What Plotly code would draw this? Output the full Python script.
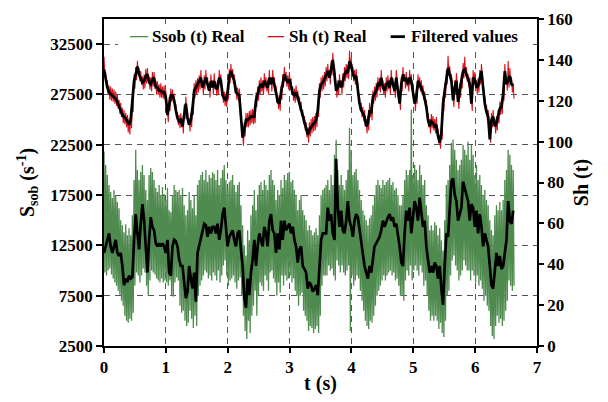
import numpy as np
import plotly.graph_objects as go

dt = 0.027

# Sh (t) filtered values (right axis)
sh_filtered = [
    135.3,129.7,126.5,124.1,123.4,122.6,121.8,121.0,119.4,117.0,115.4,113.0,112.2,111.4,109.9,108.3,110.6,118.6,129.7,132.9,
    136.8,132.9,131.3,128.9,129.7,132.1,132.9,128.9,128.1,130.5,131.3,126.5,126.5,124.9,124.9,124.1,124.1,121.8,113.0,118.6,
    122.6,122.6,120.2,115.4,111.4,
    109.9,110.6,107.5,114.6,118.6,111.4,108.3,110.6,116.2,124.9,126.5,127.3,128.9,131.3,126.5,128.9,131.3,128.1,124.9,129.7,
    126.5,129.7,125.7,126.5,131.3,129.7,122.6,121.0,120.2,124.1,132.1,134.5,132.1,129.7,124.1,123.4,122.6,112.2,101.9,105.9,
    110.6,110.6,111.4,112.2,112.2,112.2,
    120.2,123.4,126.5,128.1,126.5,129.7,128.1,126.5,131.3,128.1,131.3,128.1,124.1,119.4,118.6,124.1,129.7,132.9,130.5,128.9,
    130.5,127.3,123.4,122.6,124.1,121.8,118.6,116.2,112.2,109.1,105.9,103.5,105.9,107.5,108.3,109.1,110.6,115.4,124.9,128.1,
    128.9,130.5,
    132.9,134.5,131.3,136.0,140.0,132.9,124.9,126.5,129.7,126.5,129.7,132.9,134.5,133.7,139.2,137.6,132.9,131.3,132.1,124.9,
    118.6,115.4,113.8,112.2,107.5,109.1,115.4,113.8,121.8,123.4,124.9,128.1,127.3,131.3,126.5,124.9,128.1,128.9,126.5,131.3,
    127.3,124.9,131.3,123.4,118.6,
    128.1,132.9,129.7,130.5,128.1,131.3,129.7,124.9,118.6,121.8,129.7,128.1,126.5,124.1,121.0,117.0,110.6,107.5,109.9,109.1,
    107.5,108.3,102.7,99.5,104.3,118.6,124.9,131.3,136.0,132.9,129.7,120.2,126.5,129.7,119.4,124.9,129.7,134.5,135.3,132.9,
    129.7,128.1,
    118.6,131.3,130.5,126.5,127.3,131.3,134.5,126.5,118.6,114.6,112.2,101.1,110.6,112.2,107.5,109.1,112.2,116.2,117.0,123.4,
    134.5,128.1,129.7,132.1,128.1,127.3,
]

# Sh (t) real: local peaks and troughs
sh_real_peaks = [
    141.5,134.0,130.0,127.5,127.0,126.0,125.5,124.5,123.0,120.5,119.0,116.5,115.5,114.0,113.0,111.5,114.0,122.0,133.0,136.5,
    139.5,136.0,134.5,132.0,133.0,135.5,136.0,132.0,131.5,134.0,134.0,130.0,129.5,128.0,128.5,127.0,127.5,125.0,116.0,122.0,
    126.0,125.5,123.5,118.5,114.5,
    113.0,114.0,111.0,118.0,122.0,115.0,111.5,114.0,119.5,128.5,130.0,131.0,132.5,135.0,130.0,132.5,135.0,131.5,128.5,133.0,
    130.0,133.5,129.0,130.0,135.0,133.0,126.0,124.5,123.5,127.5,135.5,138.0,135.5,133.0,127.5,126.5,126.0,115.5,105.0,109.5,
    114.0,114.0,115.0,115.5,116.0,115.5,
    124.0,127.0,130.0,131.5,130.0,133.5,131.5,130.0,135.0,131.5,135.0,131.5,127.5,123.0,122.0,127.5,133.0,136.5,134.0,132.5,
    134.0,131.0,127.0,126.0,127.5,125.0,122.0,119.5,115.5,112.5,109.5,107.0,109.5,111.0,112.0,112.5,114.0,119.0,128.5,131.5,
    132.5,134.0,
    136.5,138.0,135.0,139.5,143.5,136.5,128.5,130.0,133.0,130.0,133.5,136.5,138.0,137.5,144.5,141.0,136.5,135.0,135.5,128.5,
    122.0,119.0,117.0,115.5,111.0,112.5,119.0,117.0,125.0,127.0,128.5,131.5,131.0,135.0,130.0,128.5,131.5,132.5,130.0,135.0,
    131.0,128.5,135.0,127.0,122.0,
    131.5,136.5,133.0,134.0,131.5,135.0,133.0,128.5,122.0,125.5,133.0,131.5,130.0,127.5,124.5,120.5,114.0,111.0,113.5,112.5,
    111.0,112.0,106.0,103.0,107.5,122.0,128.5,135.0,142.0,137.0,133.0,123.5,130.0,133.5,123.0,128.5,133.0,138.5,141.5,136.5,
    133.0,131.5,
    122.0,135.0,134.0,130.0,131.0,135.0,138.0,130.0,122.0,118.0,115.5,104.5,114.0,115.5,111.0,112.5,115.5,119.5,120.5,127.0,
    138.0,132.0,139.5,136.0,131.5,128.5,
]
sh_real_troughs = [
    133.0,126.5,123.0,120.5,120.0,119.5,118.5,117.5,116.0,113.5,112.0,109.0,108.5,107.0,104.5,103.5,106.5,114.5,126.0,130.0,
    133.0,129.5,128.0,125.5,126.0,128.5,129.5,125.5,124.5,127.0,128.0,123.0,123.0,121.5,121.5,121.0,120.5,118.5,109.5,115.0,
    119.5,119.0,116.5,112.0,108.0,
    106.5,107.0,104.0,111.0,115.5,108.0,105.0,107.0,113.0,121.5,123.0,124.0,125.5,128.0,123.0,125.5,128.0,125.0,121.5,126.5,
    123.0,126.5,122.5,123.0,128.0,126.5,119.0,117.5,117.0,120.5,128.5,131.0,128.5,126.5,120.5,120.0,119.0,108.5,98.0,102.5,
    107.0,107.0,108.0,109.0,108.5,109.0,
    117.0,120.0,123.0,124.5,123.0,126.0,124.5,123.0,128.0,124.5,128.0,124.5,120.5,116.0,115.0,120.5,126.5,129.5,127.0,125.5,
    127.0,124.0,120.0,119.0,120.5,118.5,115.0,112.5,108.5,105.5,102.0,99.5,102.5,104.0,105.0,105.5,107.0,112.0,121.5,124.5,
    125.5,127.0,
    129.5,131.0,128.0,132.5,136.5,129.5,121.5,123.0,126.5,123.0,126.5,129.5,131.0,130.5,135.5,134.0,129.5,128.0,128.5,121.5,
    115.0,112.0,110.0,108.5,104.0,105.5,112.0,110.5,118.5,120.0,121.5,125.0,124.0,128.0,123.0,121.5,124.5,125.5,123.0,128.0,
    124.0,121.5,128.0,120.0,115.5,
    124.5,129.5,126.0,127.0,124.5,128.0,126.0,121.5,115.0,118.5,126.0,124.5,123.0,120.5,117.5,113.5,107.0,104.0,106.5,105.5,
    104.0,104.5,99.0,96.5,101.0,115.0,121.5,128.0,132.5,129.5,126.5,117.0,123.0,126.0,116.0,121.5,126.0,131.0,132.0,129.5,
    126.5,124.5,
    115.0,128.0,127.0,123.0,124.0,128.0,131.0,123.0,115.0,111.0,109.0,99.5,107.0,108.5,104.0,105.5,109.0,113.0,113.5,120.0,
    131.0,125.0,126.5,128.5,124.0,121.0,
]

# Ssob (t) filtered values (left axis, s^-1)
ssob_filtered = [
    11750,12400,13200,13700,12400,11750,12400,13050,11750,11450,11750,10450,8550,9200,8850,9500,9200,9350,13050,15600,
    13700,12100,14650,16600,15000,12100,9800,13050,15300,14350,14000,12700,12400,12700,12400,12700,12400,11750,13050,9800,
    9500,12400,13050,12900,12400,
    11100,10450,10450,8550,7250,7900,10450,9200,8200,9800,6900,11750,12400,13050,14000,14650,14500,13350,14350,13700,
    14350,14350,13700,14650,13050,14000,15600,16250,14350,12400,13350,13700,14000,13050,12400,13700,14000,12100,10450,7250,
    6300,9200,7550,9800,11100,13050,
    10450,12400,13700,13050,12400,14350,13700,12400,14950,15600,14000,13700,11750,13700,12100,14950,13050,14950,14000,14350,
    14650,13700,14350,13050,12400,10800,12100,12400,10450,10150,9800,8200,8850,8550,7900,8200,8550,7550,9800,13050,
    13700,13700,
    13700,16250,14950,15600,13700,13050,21100,16250,14350,15950,14000,13700,14950,16900,14950,14350,13350,14950,15600,15300,
    14000,12700,11750,10450,9800,9200,10450,9800,11100,12400,12700,13050,13350,14000,14950,14350,14950,15300,15600,14950,
    15300,14350,14650,13700,12400,
    10800,10450,13700,15950,14950,16250,13700,15600,16900,16250,14950,17250,15950,14350,14950,12400,11100,9800,10450,9800,
    10800,10450,9200,10450,8200,6600,10450,13700,13350,16250,18850,19150,17550,16900,14950,15600,16250,18850,18200,17550,
    16900,14950,
    16600,16250,14350,15950,13700,15600,14350,12400,13700,13050,12400,10450,8550,8200,10450,11750,10450,11450,10150,10450,
    11750,13050,16900,14950,14650,15950,
]

# Ssob (t) real: local peaks and troughs
ssob_real_peaks = [
    21800,20500,19500,18500,17800,17200,18000,17500,16800,16200,15000,14500,13800,14600,13500,14200,13500,15500,19000,22000,
    20000,19000,19800,20500,19500,18000,17000,19500,20200,19800,19000,18200,17800,18500,17500,18300,17600,17000,18200,16000,
    15800,17500,18500,18000,17800,
    18000,17500,18200,16500,15500,16000,17800,17000,16200,17500,15500,18500,19000,19500,19800,19000,20000,18800,19500,19200,
    19800,19600,19000,20000,18500,19200,20000,20500,19000,18000,18800,19000,19500,18500,17800,18500,18800,16500,14500,12500,
    11500,14000,13000,15500,16500,18000,
    16000,17500,18500,18800,18000,19000,18500,18000,19500,20000,19000,18500,17000,18000,17500,19000,18200,19500,19000,19700,
    19800,18800,19000,18000,17500,16000,17000,17500,16000,15500,15000,14000,14500,14000,13500,13800,14200,13500,15500,17500,
    18000,18200,
    18500,19000,18000,19500,18500,21500,23000,20000,18500,19500,18500,18000,19000,20000,24200,22000,19500,19800,20100,19000,
    18000,17000,16000,15500,15000,14500,15200,15500,16500,17500,18500,19000,18500,18200,19000,18500,18800,19000,19200,18500,
    18800,18000,18200,17500,16500,
    16500,17500,19000,20000,19500,20000,26000,19500,20500,20000,19000,20500,19500,18500,19000,16500,15500,14000,14500,14000,
    14800,14500,13500,14200,13000,12000,15000,18500,19000,20500,22700,23000,22000,21000,20000,20500,21000,22500,22000,21500,
    22800,21000,
    22500,21500,19500,20500,19000,19500,18500,17500,18000,17000,16500,15000,14000,13500,15500,16500,16000,16800,16000,17000,
    19000,20000,22000,21500,20500,20000,
]
ssob_real_troughs = [
    9800,9500,10000,10200,9600,9200,8800,8500,8000,7600,7000,6500,5500,5000,4800,5200,5000,5800,8500,9800,
    9500,8800,9500,10200,9800,8500,7500,9000,10000,9800,9600,9200,9000,8800,9200,8800,9000,8800,8500,9000,
    7500,7400,8800,9300,9000,
    6500,5800,6000,5000,4500,4800,6000,5200,4300,5500,4500,7500,8500,9000,9500,10000,9800,9200,9500,9000,
    9800,9500,9000,10000,8800,9500,10500,11000,9500,8500,9000,9200,9500,8800,8200,9000,9300,7500,5500,4000,
    3200,5000,3800,5500,6500,8000,
    5500,7500,8800,8500,8000,9500,9000,8000,9800,10000,9200,8800,7500,8800,7800,9500,8500,9500,9000,9200,
    9500,8800,9200,8000,7500,6500,7500,7800,6000,5500,5000,4000,4500,4300,3800,4200,4500,3800,5500,8500,
    9500,9500,
    9500,10500,10000,10200,9500,9000,11000,10500,9800,10500,9800,9500,10000,10500,4000,9500,8500,9000,9500,9200,
    8000,7000,6000,5000,4500,4200,5000,4800,5500,6500,7500,8000,8500,9000,9500,9000,9500,9800,10000,9500,
    9800,9000,9200,8500,7500,
    7500,7000,9000,10000,9500,10500,9000,10000,10500,10000,9500,10500,9800,8500,9000,7500,6000,5000,5500,5000,
    5500,5000,4200,4800,3800,3400,5000,7500,8000,9500,11000,11500,10500,10000,9000,9500,10000,11000,10500,10000,
    10000,9000,
    10000,9500,8800,9500,8500,9000,8200,7000,7500,6500,6000,4500,3500,3200,4500,5500,4800,5200,4500,5000,
    6000,7000,9000,8500,8000,8500,
]

left_ticks = [2500, 7500, 12500, 17500, 22500, 27500, 32500]
right_ticks = [0, 20, 40, 60, 80, 100, 120, 140, 160]
x_ticks = [0, 1, 2, 3, 4, 5, 6, 7]
legend_labels = ["Ssob (t) Real", "Sh (t) Real", "Filtered values"]

n = min(len(sh_filtered), len(sh_real_peaks), len(sh_real_troughs),
        len(ssob_filtered), len(ssob_real_peaks), len(ssob_real_troughs))
t = np.arange(n) * dt


def interleave(a, b):
    out = np.empty(2 * n)
    out[0::2] = np.asarray(a[:n], dtype=float)
    out[1::2] = np.asarray(b[:n], dtype=float)
    return out


t_dense = np.empty(2 * n)
t_dense[0::2] = t
t_dense[1::2] = t + dt / 2

GREEN = "#4f8a4f"
RED = "#d4141c"
FONT = "Liberation Serif, Times New Roman, serif"
colors = [GREEN, RED, "black"]
widths = [1.3, 1.3, 2.8]

fig = go.Figure()
fig.add_trace(go.Scatter(x=t_dense, y=interleave(ssob_real_peaks, ssob_real_troughs),
                         mode="lines", name=legend_labels[0],
                         line=dict(color=GREEN, width=1.3), yaxis="y"))
fig.add_trace(go.Scatter(x=t_dense, y=interleave(sh_real_peaks, sh_real_troughs),
                         mode="lines", name=legend_labels[1],
                         line=dict(color=RED, width=1.1), yaxis="y2"))
fig.add_trace(go.Scatter(x=t, y=ssob_filtered[:n], mode="lines", name=legend_labels[2],
                         line=dict(color="black", width=2.7), yaxis="y"))
fig.add_trace(go.Scatter(x=t, y=sh_filtered[:n], mode="lines", name=legend_labels[2],
                         line=dict(color="black", width=2.7), yaxis="y2"))

# legend drawn as a white box with short line samples and text
shapes = [dict(type="rect", xref="paper", yref="paper", x0=0.032, x1=0.984,
               y0=0.915, y1=0.985, fillcolor="white", line=dict(width=0), layer="above")]
annotations = []
sample_x = [(0.060, 0.102), (0.378, 0.416), (0.662, 0.695)]
text_x = [0.106, 0.423, 0.705]
ly = 0.946
for i, lab in enumerate(legend_labels):
    shapes.append(dict(type="line", xref="paper", yref="paper",
                       x0=sample_x[i][0], x1=sample_x[i][1], y0=ly, y1=ly,
                       line=dict(color=colors[i], width=widths[i]), layer="above"))
    annotations.append(dict(text=lab, xref="paper", yref="paper", x=text_x[i], y=ly,
                            xanchor="left", yanchor="middle", showarrow=False,
                            font=dict(family=FONT, size=17, color="black", weight="bold")))

grid = dict(showgrid=True, gridcolor="#555555", gridwidth=1, griddash="6px,5px")

fig.update_layout(
    width=608, height=402,
    margin=dict(l=104, r=71, t=10, b=56),
    paper_bgcolor="white", plot_bgcolor="white",
    font=dict(family=FONT, size=17, color="black", weight="bold"),
    showlegend=False,
    shapes=shapes, annotations=annotations,
    xaxis=dict(range=[0, 7], tickvals=x_ticks, ticks="outside", ticklen=5, tickwidth=1.5,
               tickcolor="black", showline=True, linecolor="black", linewidth=1.8,
               mirror=True, zeroline=False, tickfont=dict(size=17),
               title=dict(text="t (s)", font=dict(size=20), standoff=0), **grid),
    yaxis=dict(range=[2500, 35000], tickvals=left_ticks, tickformat="d", ticks="outside",
               ticklen=6, tickwidth=1.5, tickcolor="black", showline=True, linecolor="black",
               linewidth=1.8, zeroline=False, tickfont=dict(size=17),
               title=dict(text="S<sub>sob</sub> (s<sup>-1</sup>)", font=dict(size=20), standoff=10),
               **grid),
    yaxis2=dict(range=[0, 160], tickvals=right_ticks, tickformat="d", overlaying="y", side="right",
                ticks="outside", ticklen=5, tickwidth=1.5, tickcolor="black",
                showline=True, linecolor="black", linewidth=1.8, showgrid=False,
                zeroline=False, tickfont=dict(size=17),
                title=dict(text="Sh (t)", font=dict(size=20), standoff=2)),
    yaxis3=dict(range=[0, 160], tickvals=right_ticks, overlaying="y", side="right",
                ticks="inside", ticklen=5, tickwidth=1.5, tickcolor="black",
                showticklabels=False, showline=False, showgrid=False, zeroline=False),
)

fig.write_html("out.html")
